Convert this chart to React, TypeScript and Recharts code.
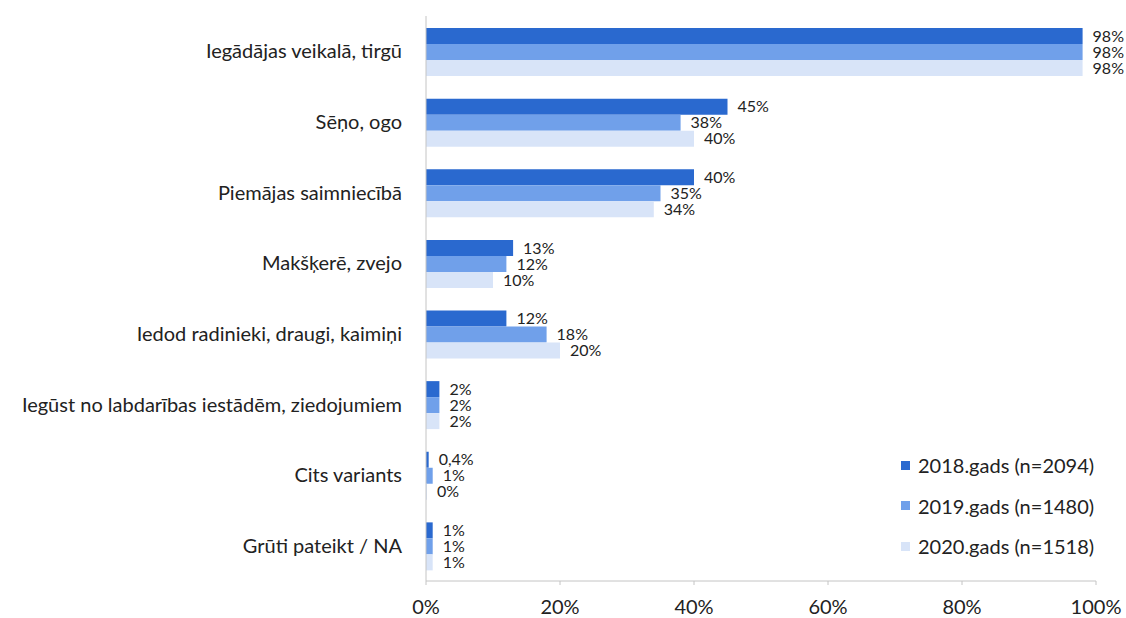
import { BarChart, Bar, XAxis, YAxis, LabelList } from 'recharts';

const categories = [
  'Iegādājas veikalā, tirgū',
  'Sēņo, ogo',
  'Piemājas saimniecībā',
  'Makšķerē, zvejo',
  'Iedod radinieki, draugi, kaimiņi',
  'Iegūst no labdarības iestādēm, ziedojumiem',
  'Cits variants',
  'Grūti pateikt / NA',
];

const y2018 = [98, 45, 40, 13, 12, 2, 0.4, 1];
const y2019 = [98, 38, 35, 12, 18, 2, 1, 1];
const y2020 = [98, 40, 34, 10, 20, 2, 0, 1];

const xTicks = [0, 20, 40, 60, 80, 100];

const SERIES = [
  { key: 'y2018', name: '2018.gads (n=2094)', color: '#2a69cf' },
  { key: 'y2019', name: '2019.gads (n=1480)', color: '#70a0ea' },
  { key: 'y2020', name: '2020.gads (n=1518)', color: '#d8e4f8' },
];

const FONT = 'Lato, "Open Sans", sans-serif';

const data = categories.map((name, i) => ({
  name,
  y2018: y2018[i],
  y2019: y2019[i],
  y2020: y2020[i],
}));

const fmt = (v: any) => `${String(v).replace('.', ',')}%`;

// legend sits in the lower right corner, outside recharts' layout
function LegendBox() {
  return (
    <div
      style={{
        position: 'absolute',
        left: 901,
        top: 445,
        fontFamily: FONT,
        fontSize: 20,
        color: '#222',
      }}
    >
      {SERIES.map((s) => (
        <div key={s.key} style={{ display: 'flex', alignItems: 'center', height: 40.5 }}>
          <span
            style={{
              display: 'inline-block',
              width: 9,
              height: 9,
              background: s.color,
              marginRight: 8,
            }}
          />
          {s.name}
        </div>
      ))}
    </div>
  );
}

export default function App() {
  return (
    <div className="food-chart">
      <BarChart
        width={1126}
        height={618}
        data={data}
        layout="vertical"
        margin={{ top: 16, right: 30, bottom: 8, left: 16 }}
        barCategoryGap={12}
        barGap={0}
        style={{ fontFamily: FONT }}
      >
        <XAxis
          type="number"
          domain={[0, 100]}
          ticks={xTicks}
          tickFormatter={(v) => `${v}%`}
          stroke="#c4c4c4"
          tickSize={4}
          tickMargin={15}
          height={29}
          tick={{ fill: '#222', fontSize: 20 }}
        />
        <YAxis
          type="category"
          dataKey="name"
          width={410}
          stroke="#c4c4c4"
          tickLine={false}
          tickMargin={18}
          tick={{ fill: '#222', fontSize: 20 }}
        />
        {SERIES.map((s) => (
          <Bar
            key={s.key}
            dataKey={s.key}
            name={s.name}
            fill={s.color}
            minPointSize={1}
            isAnimationActive={false}
          >
            <LabelList
              dataKey={s.key}
              position="right"
              offset={10}
              formatter={fmt}
              style={{ fill: '#222', fontSize: 16, fontFamily: FONT }}
            />
          </Bar>
        ))}
      </BarChart>
      <LegendBox />

      <style>{`
        body {
          margin: 0;
        }
        .food-chart {
          position: relative;
          width: 1126px;
          height: 618px;
          overflow: hidden;
        }
      `}</style>
    </div>
  );
}
